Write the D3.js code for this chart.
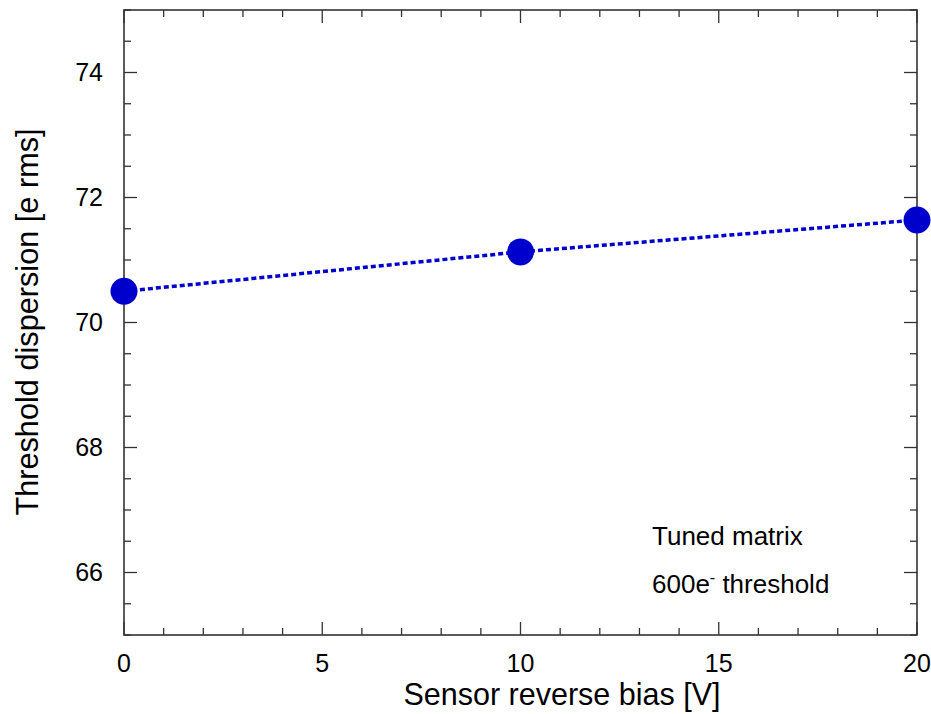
<!DOCTYPE html>
<html><head><meta charset="utf-8">
<script src="https://cdn.jsdelivr.net/npm/d3@7"></script>
<style>body{margin:0;background:#fff}svg{display:block}text{font-family:"Liberation Sans",Arial,sans-serif;fill:#000}</style>
</head><body><svg id="c" width="931" height="714"></svg>
<script>
const biasV = [0, 10, 20];
const dispersion = [70.50, 71.13, 71.64];
const xMajorTicks = [0, 5, 10, 15, 20];
const yMajorTicks = [66, 68, 70, 72, 74];
const xTitle = "Sensor reverse bias [V]";
const yTitle = "Threshold dispersion [e rms]";

const svg = d3.select("#c");
const L = 124, R = 917, T = 10, B = 635;
const x = d3.scaleLinear().domain([0, 20]).range([L, R]);
const y = d3.scaleLinear().domain([65, 75]).range([B, T]);
const col = "#0000cc";
const axCol = "#333";

// ticks
const xMinor = d3.range(0, 21, 1);
const yMinor = d3.range(65, 75.01, 0.5);
const g = svg.append("g").attr("stroke", axCol).attr("stroke-width", 1.3);
xMinor.forEach(v => {
  const len = xMajorTicks.includes(v) ? 13 : 7;
  g.append("line").attr("x1", x(v)).attr("x2", x(v)).attr("y1", B).attr("y2", B - len);
  g.append("line").attr("x1", x(v)).attr("x2", x(v)).attr("y1", T).attr("y2", T + len);
});
yMinor.forEach(v => {
  const len = yMajorTicks.includes(v) ? 13 : 7;
  g.append("line").attr("y1", y(v)).attr("y2", y(v)).attr("x1", L).attr("x2", L + len);
  g.append("line").attr("y1", y(v)).attr("y2", y(v)).attr("x1", R).attr("x2", R - len);
});
svg.append("rect").attr("x", L).attr("y", T).attr("width", R - L).attr("height", B - T)
  .attr("fill", "none").attr("stroke", axCol).attr("stroke-width", 1.6);

// tick labels
svg.selectAll(".xl").data(xMajorTicks).enter().append("text")
  .attr("x", d => x(d)).attr("y", 672).attr("text-anchor", "middle")
  .attr("font-size", 25).text(d => d);
svg.selectAll(".yl").data(yMajorTicks).enter().append("text")
  .attr("x", 103).attr("y", d => y(d) + 8.5).attr("text-anchor", "end")
  .attr("font-size", 25).text(d => d);

// titles
svg.append("text").attr("x", 562).attr("y", 705).attr("text-anchor", "middle")
  .attr("font-size", 30.5).text(xTitle);
svg.append("text").attr("transform", `translate(38,322) rotate(-90)`)
  .attr("text-anchor", "middle").attr("font-size", 30.7).text(yTitle);

// line
const line = d3.line().x((d, i) => x(biasV[i])).y(d => y(d));
svg.append("path").datum(dispersion).attr("d", line).attr("fill", "none")
  .attr("stroke", col).attr("stroke-width", 3.5).attr("stroke-dasharray", "5,3");
svg.selectAll(".pt").data(dispersion).enter().append("circle")
  .attr("cx", (d, i) => x(biasV[i])).attr("cy", d => y(d)).attr("r", 13.5)
  .attr("fill", col);

// annotation
svg.append("text").attr("x", 652).attr("y", 545).attr("font-size", 26).text("Tuned matrix");
const t2 = svg.append("text").attr("x", 652).attr("y", 593).attr("font-size", 26);
t2.append("tspan").text("600e");
t2.append("tspan").attr("dy", -10).attr("font-size", 16).text("-");
t2.append("tspan").attr("dy", 10).text(" threshold");
</script></body></html>
